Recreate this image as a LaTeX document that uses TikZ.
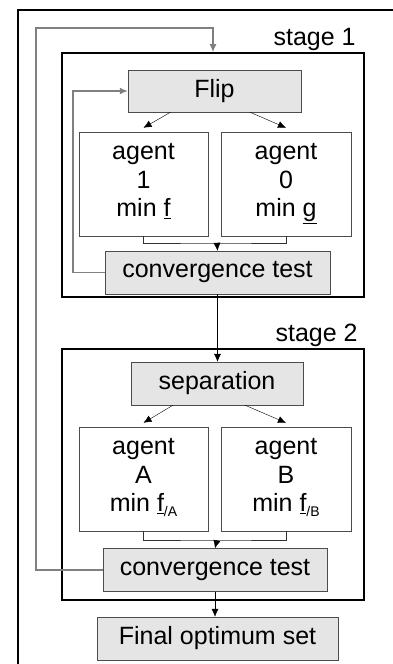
\documentclass[tikz,border=0pt]{standalone}
\usepackage{fontspec}
\setmainfont{Liberation Sans}
\usepackage{xcolor}
\usepackage{tikz}
\usetikzlibrary{arrows.meta}

\newcommand{\subidx}[1]{\raisebox{-5pt}{\fontsize{14}{14}\selectfont #1}}
\newcommand{\lowfix}{\vphantom{\underline{g}}}

\begin{document}
\begin{tikzpicture}[x=1pt, y=-1pt, >={Latex[length=8pt,width=7pt]},
    font=\fontsize{25}{28.5}\selectfont,
    graybox/.style={draw=black!70, fill=gray!20, inner sep=0pt},
    agentbox/.style={draw=black!70, fill=white, align=center, inner sep=0pt, minimum width=129pt, minimum height=104pt},
    stagebox/.style={draw, line width=1.6pt, inner sep=0pt},
    fb/.style={draw=gray, line width=1.3pt}]
  \useasboundingbox (0,0) rectangle (392,664);
  % Marco exterior
  \draw[line width=2pt] (18,700) -- (18,10) -- (420,10);

  % Etapas
  \node[stagebox, minimum width=302pt, minimum height=244pt] (s1) at (213,175) {};
  \node[anchor=south east, inner sep=1pt, xshift=-8pt] at (s1.north east) {stage 1};
  \node[stagebox, minimum width=302pt, minimum height=251pt] (s2) at (213,474.5) {};
  \node[anchor=south east, inner sep=1pt, xshift=-6pt] at (s2.north east) {stage 2};

  % Nodos etapa 1
  \node[graybox, minimum width=173pt, minimum height=42pt] (flip) at (214.5,91) {Flip};
  \node[agentbox] (a1) at (143.5,184) {agent\\1\\min \underline{f}\lowfix};
  \node[agentbox, minimum width=130pt] (a0) at (286,184) {agent\\0\\min \underline{g}};
  \node[graybox, minimum width=225pt, minimum height=43pt] (conv1) at (217.5,272.5) {convergence test};
  \coordinate (j1) at (217,243);

  % Nodos etapa 2
  \node[graybox, minimum width=172pt, minimum height=43pt] (sep) at (217,383.5) {separation};
  \node[agentbox] (aA) at (143.5,479) {agent\\A\\min \underline{f}\subidx{/A}\lowfix};
  \node[agentbox, minimum width=130pt] (aB) at (286,479) {agent\\B\\min \underline{f}\subidx{/B}\lowfix};
  \node[graybox, minimum width=224pt, minimum height=43pt] (conv2) at (215,570) {convergence test};
  \coordinate (j2) at (217,540);
  \node[graybox, minimum width=241pt, minimum height=43pt] (final) at (217.5,638.5) {Final optimum set};

  % Flechas
  \draw[->] ([xshift=-44pt]flip.south) -- ([yshift=4pt]a1.north);
  \draw[->] ([xshift=35.5pt]flip.south) -- ([yshift=4pt]a0.north);
  \draw[black!80] (a1.south) |- (j1) -| (a0.south);
  \draw[->] (j1) -- (conv1.north);
  \draw[->] (conv1.south) -- (conv1.south |- sep.north);
  \draw[->] ([xshift=-44pt]sep.south) -- ([yshift=4pt]aA.north);
  \draw[->] ([xshift=28pt]sep.south) -- ([yshift=4pt]aB.north);
  \draw[black!80] (aA.south) |- (j2) -| (aB.south);
  \draw[->] (j2) -- (conv2.north);
  \draw[->] (conv2.south) -- (conv2.south |- final.north);

  % Realimentacion
  \coordinate (fbi) at (73,91);
  \coordinate (fbo) at (36,28);
  \draw[fb, ->] (conv1.west) -| (fbi) -- (flip.west);
  \draw[fb, ->] (conv2.west) -| (fbo) -| (s1.north);
\end{tikzpicture}
\end{document}
